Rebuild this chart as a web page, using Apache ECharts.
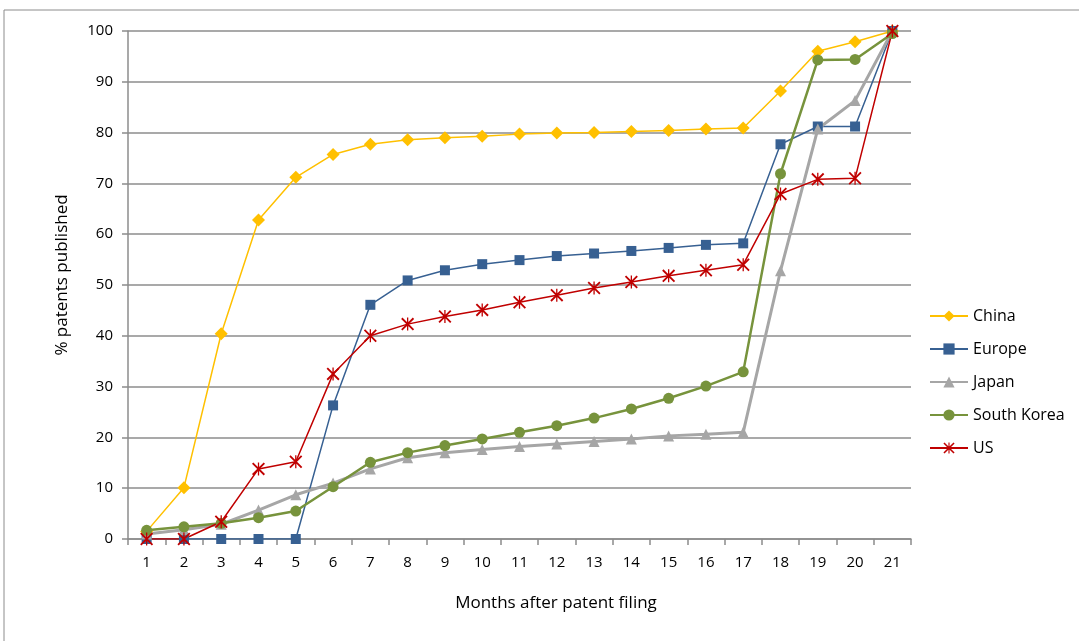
<!DOCTYPE html>
<html><head><meta charset="utf-8">
<script src="https://cdn.jsdelivr.net/npm/echarts@6/dist/echarts.min.js"></script>
<style>html,body{margin:0;padding:0;background:#fff}#c{width:1079px;height:641px}</style>
</head><body><div id="c"></div>
<script>
const months = ['1','2','3','4','5','6','7','8','9','10','11','12','13','14','15','16','17','18','19','20','21'];
const china = [1.5,10.1,40.4,62.8,71.2,75.7,77.7,78.6,79.0,79.3,79.7,79.9,80.0,80.2,80.4,80.7,80.9,88.2,96.0,97.9,100];
const europe = [0,0,0,0,0,26.3,46.1,50.9,52.9,54.1,54.9,55.7,56.2,56.7,57.3,57.9,58.2,77.7,81.2,81.2,100];
const japan = [1.0,1.8,2.9,5.7,8.7,11.0,13.8,16.0,17.0,17.6,18.2,18.7,19.2,19.7,20.3,20.6,21.0,52.8,80.7,86.3,100];
const southKorea = [1.7,2.4,3.1,4.2,5.5,10.3,15.1,17.0,18.4,19.7,21.0,22.3,23.8,25.6,27.7,30.1,32.9,71.9,94.3,94.4,99.5];
const us = [0,0,3.4,13.8,15.2,32.5,40.0,42.3,43.8,45.1,46.6,48.0,49.4,50.6,51.8,52.9,54.0,67.9,70.8,71.0,100];
const yTicks = [0,10,20,30,40,50,60,70,80,90,100];
const xTitle = 'Months after patent filing';
const yTitle = '% patents published';

const FONT = 'Open Sans';
const asterisk = 'path://M9 0L11 0L11 20L9 20Z M0 2L2 0L20 18L18 20Z M18 0L20 2L2 20L0 18Z';
const chart = echarts.init(document.getElementById('c'));
function mk(name, data, color, symbol, size, width){
  return {name, type:'line', data, symbol, symbolSize:size, showSymbol:true,
    lineStyle:{color, width}, itemStyle:{color}, emphasis:{disabled:true}, animation:false};
}
chart.setOption({
  animation:false,
  textStyle:{fontFamily:FONT},
  graphic:[
    {type:'rect', shape:{x:4,y:10,width:1300,height:1000}, style:{fill:null, stroke:'#8c8c8c', lineWidth:1}, silent:true},
    {type:'text', x:556, y:603, style:{text:xTitle, fontFamily:FONT, fontSize:17, fill:'#000', align:'center', verticalAlign:'middle'}, silent:true},
    {type:'text', x:62, y:275, rotation:Math.PI/2, style:{text:yTitle, fontFamily:FONT, fontSize:17, fill:'#000', align:'center', verticalAlign:'middle'}, silent:true}
  ],
  grid:{left:128, right:168, top:31, bottom:102, containLabel:false},
  legend:{orient:'vertical', left:924, top:303, itemGap:17, itemWidth:38, itemHeight:14,
    textStyle:{fontFamily:FONT, fontSize:16, color:'#000'},
    data:['China','Europe','Japan','South Korea','US']},
  xAxis:{type:'category', data:months, boundaryGap:true,
    axisLine:{lineStyle:{color:'#8c8c8c', width:1.5}},
    axisTick:{show:true, alignWithLabel:false, length:6, lineStyle:{color:'#8c8c8c', width:1.5}},
    axisLabel:{color:'#000', fontSize:15, margin:16, fontFamily:FONT},
    splitLine:{show:false}},
  yAxis:{type:'value', min:0, max:100, interval:10,
    axisLine:{show:true, lineStyle:{color:'#8c8c8c', width:1.5}},
    axisTick:{show:true, length:6, lineStyle:{color:'#8c8c8c', width:1.5}},
    axisLabel:{color:'#000', fontSize:15, margin:15, fontFamily:FONT,
      formatter:v=>yTicks.includes(v)?String(v):''},
    splitLine:{show:true, lineStyle:{color:'#8c8c8c', width:1.5}}},
  series:[
    mk('China', china, '#FFC000', 'diamond', 13, 1.5),
    mk('Europe', europe, '#376092', 'rect', 10, 1.5),
    mk('Japan', japan, '#A6A6A6', 'triangle', 11, 3),
    mk('South Korea', southKorea, '#77933C', 'circle', 11, 2.5),
    mk('US', us, '#C00000', asterisk, 13, 1.5)
  ]
});
</script></body></html>
